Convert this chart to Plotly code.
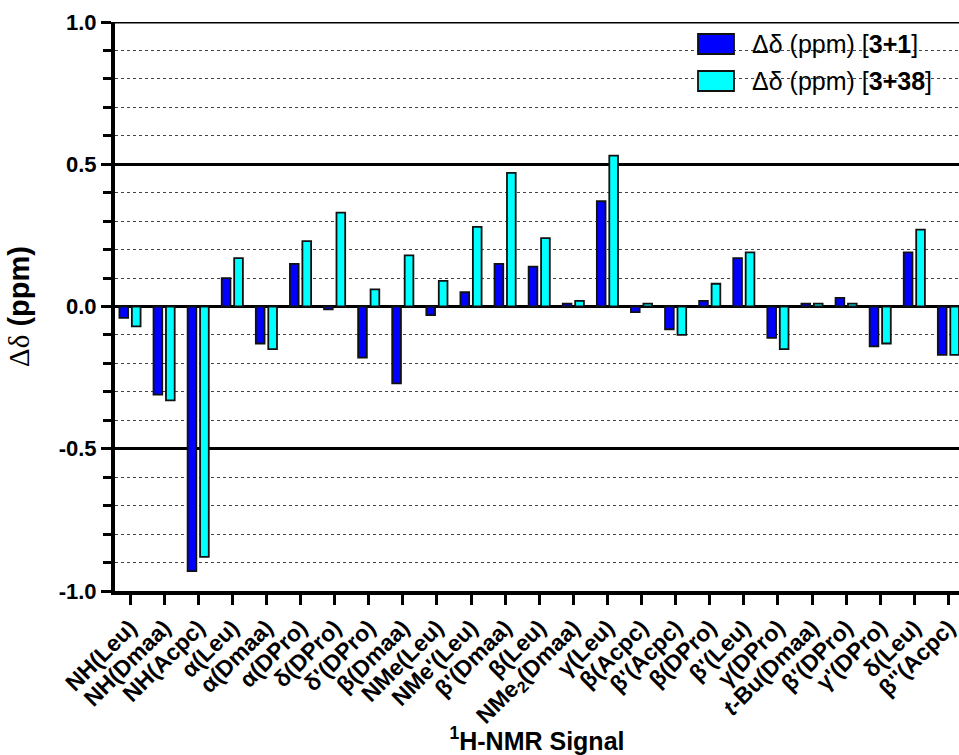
import plotly.graph_objects as go

# 1H-NMR signals (x categories)
signals = [
    "NH(Leu)", "NH(Dmaa)", "NH(Acpc)", "α(Leu)", "α(Dmaa)", "α(DPro)",
    "δ(DPro)", "δ'(DPro)", "β(Dmaa)", "NMe(Leu)", "NMe'(Leu)", "β'(Dmaa)",
    "β(Leu)", "NMe<sub>2</sub>(Dmaa)", "γ(Leu)", "β(Acpc)", "β'(Acpc)",
    "β(DPro)", "β'(Leu)", "γ(DPro)", "<i>t</i>-Bu(Dmaa)", "β'(DPro)",
    "γ'(DPro)", "δ(Leu)", "β''(Acpc)",
]

# chemical-shift differences (ppm)
delta_3_1 = [-0.04, -0.31, -0.93, 0.10, -0.13, 0.15, -0.01, -0.18, -0.27, -0.03,
             0.05, 0.15, 0.14, 0.01, 0.37, -0.02, -0.08, 0.02, 0.17, -0.11,
             0.01, 0.03, -0.14, 0.19, -0.17]
delta_3_38 = [-0.07, -0.33, -0.88, 0.17, -0.15, 0.23, 0.33, 0.06, 0.18, 0.09,
              0.28, 0.47, 0.24, 0.02, 0.53, 0.01, -0.10, 0.08, 0.19, -0.15,
              0.01, 0.01, -0.13, 0.27, -0.17]

series_names = ["Δδ (ppm) [<b>3+1</b>]", "Δδ (ppm) [<b>3+38</b>]"]
series_colors = ["#0000FF", "#00FFFF"]

y_ticks = [-1.0, -0.5, 0.0, 0.5, 1.0]

FONT = "Liberation Sans, Arial, sans-serif"

fig = go.Figure()
for name, vals, col in zip(series_names, [delta_3_1, delta_3_38], series_colors):
    fig.add_trace(go.Bar(
        x=signals, y=vals, name=name,
        marker=dict(color=col, line=dict(color="#111111", width=1.8)),
        showlegend=False,
    ))

fig.update_layout(
    width=959, height=755,
    margin=dict(l=115, r=0, t=22, b=164),
    paper_bgcolor="white", plot_bgcolor="white",
    barmode="group", bargap=0.27, bargroupgap=0.3,
    font=dict(family=FONT, color="black"),
)

fig.update_xaxes(
    range=[-0.44, 24.31], automargin=False,
    showline=True, linewidth=4, linecolor="black",
    ticks="outside", ticklen=10, tickwidth=3, tickcolor="black",
    tickangle=-45,
    tickfont=dict(family=FONT, size=23, color="black", weight="bold"),
    showgrid=False, zeroline=False,
    title=dict(text="<sup>1</sup>H-NMR Signal",
               font=dict(family=FONT, size=25, color="black", weight="bold"),
               standoff=10),
)

fig.update_yaxes(
    range=[-1.0, 1.0], automargin=False,
    tickvals=y_ticks, ticktext=[f"{v:.1f}" for v in y_ticks],
    showline=True, linewidth=4, linecolor="black",
    ticks="outside", ticklen=10, tickwidth=3, tickcolor="black",
    tickfont=dict(family=FONT, size=22, color="black", weight="bold"),
    showgrid=True, gridcolor="black", gridwidth=3,
    zeroline=True, zerolinecolor="black", zerolinewidth=3,
    minor=dict(dtick=0.1, tick0=0, ticks="outside", ticklen=8, tickwidth=3,
               tickcolor="black", showgrid=True, gridcolor="#444444",
               gridwidth=1.3, griddash="dot"),
    title=dict(text="<span style='font-family:Liberation Serif;font-weight:normal'>Δδ</span> (ppm)",
               font=dict(family=FONT, size=29, color="black", weight="bold"),
               standoff=22),
)

# heavy frame line along the top of the value range
fig.add_shape(type="line", xref="paper", yref="y", x0=0, x1=1, y0=1.0, y1=1.0,
              line=dict(color="black", width=3))

# legend drawn as swatches + labels in the upper right corner
def px_x(px):
    return (px - 115) / (959 - 115)

def px_y(py):
    return (591 - py) / (591 - 22)

legend_rows = [44, 81]
for name, col, yc in zip(series_names, series_colors, legend_rows):
    fig.add_shape(type="rect", xref="paper", yref="paper",
                  x0=px_x(698), x1=px_x(734), y0=px_y(yc + 10), y1=px_y(yc - 10),
                  fillcolor=col, line=dict(color="#111111", width=1.8))
    fig.add_annotation(xref="paper", yref="paper", x=px_x(750), y=px_y(yc),
                       xanchor="left", yanchor="middle", showarrow=False,
                       text=name, font=dict(family=FONT, size=25, color="black"))

fig.write_html("out.html")
